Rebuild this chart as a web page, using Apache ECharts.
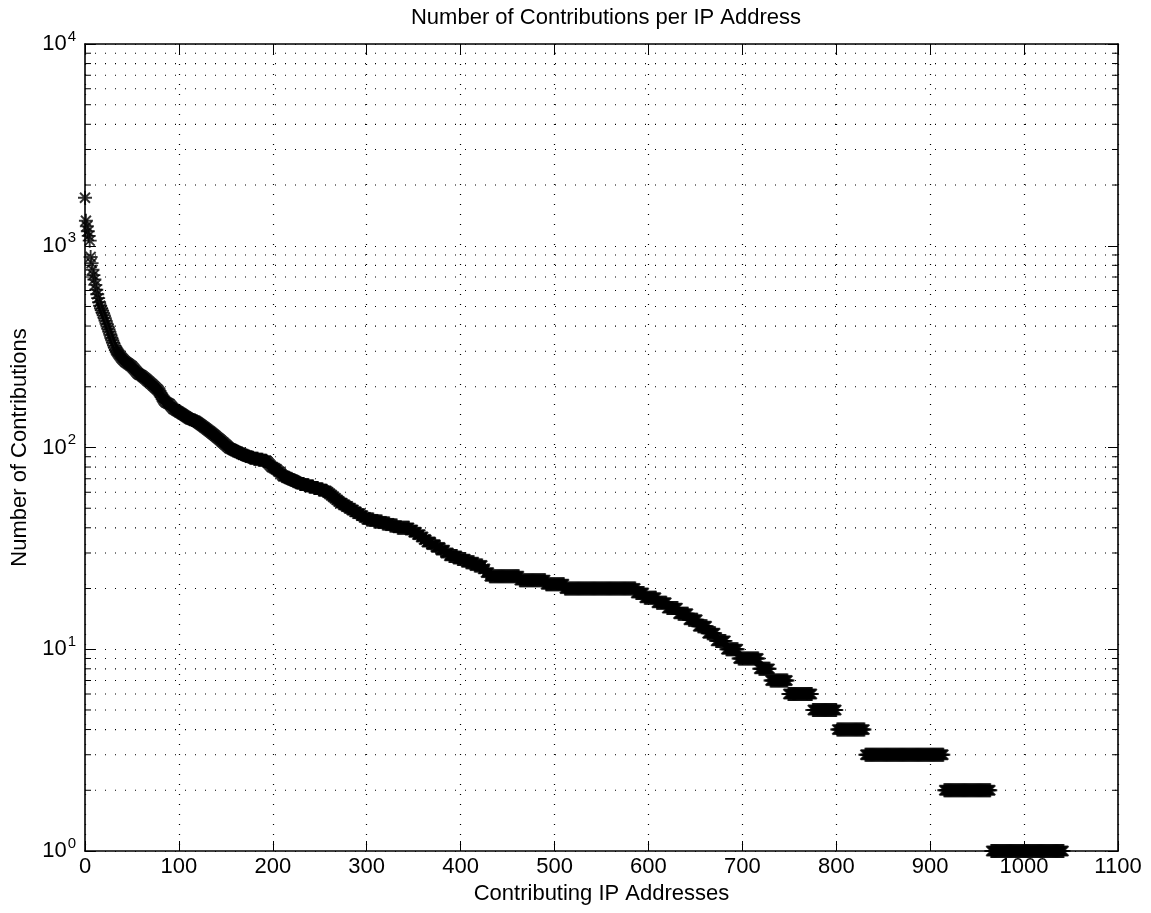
<!DOCTYPE html>
<html><head><meta charset="utf-8">
<script src="https://cdn.jsdelivr.net/npm/echarts@6/dist/echarts.min.js"></script>
<style>html,body{margin:0;padding:0;background:#fff}#c{width:1151px;height:913px}</style>
</head><body><div id="c"></div>
<script>
const titleText = 'Number of Contributions per IP Address';
const xName = 'Contributing IP Addresses';
const yName = 'Number of Contributions';
const xMin = 0, xMax = 1100, xStep = 100;
const yMin = 1, yMax = 10000;
const minorYValues = [2,3,4,5,6,7,8,9,20,30,40,50,60,70,80,90,200,300,400,500,600,700,800,900,2000,3000,4000,5000,6000,7000,8000,9000];

// contributions of the top-ranked IP addresses, one per rank (rank 0..153)
const topValues = [
 1730,1330,1250,1180,1120,1060,880,820,760,715,
 680,640,605,575,550,525,505,490,478,465,
 452,438,424,410,398,386,374,362,350,340,
 330,320,312,305,300,295,290,286,282,278,
 275,272,269,266,264,262,260,258,256,254,
 252,249,246,243,240,237,234,232,230,229,
 228,226,224,222,220,218,216,214,212,210,
 208,206,204,202,200,198,196,194,192,189,
 186,182,178,175,172,170,168,167,166,165,
 164,162,160,158,156,155,154,153,152,151,
 150,149,148,147,146,145,144,143,142,141,
 140,139,138,138,137,137,136,136,135,134,
 133,132,131,130,129,128,127,126,125,124,
 123,122,121,120,119,118,117,116,115,114,
 113,112,111,110,109,108,107,106,105,104,
 103,102,101,100
];
// remaining IPs: contribution level and number of IPs at that level
const levels = [99,98,97,96,95,94,93,92,91,90,89,88,87,86,85,84,83,82,81,80,
 79,78,77,76,75,74,73,72,71,70,69,68,67,66,65,64,63,62,61,60,
 59,58,57,56,55,54,53,52,51,50,49,48,47,46,45,44,43,42,41,40,
 39,38,37,36,35,34,33,32,31,30,29,28,27,26,25,24,23,22,21,20,
 19,18,17,16,15,14,13,12,11,10,9,8,7,6,5,4,3,2,1];
const ipCounts = [2,2,2,2,2,2,2,3,3,2,4,5,5,4,1,1,1,1,1,2,
 2,2,1,2,1,1,1,3,3,3,3,3,3,5,5,5,5,5,4,2,
 2,2,2,2,2,2,3,3,3,3,3,3,4,3,3,8,9,8,8,13,
 4,4,4,3,3,5,5,5,5,4,9,9,9,9,3,4,32,28,20,76,
 9,13,11,12,11,10,10,9,11,13,22,12,19,26,26,30,84,50,78];

const points = [];
topValues.forEach(v => points.push([points.length, v]));
levels.forEach((v, i) => { for (let k = 0; k < ipCounts[i]; k++) points.push([points.length, v]); });

const FONT = "'Liberation Sans', Arial, Helvetica, sans-serif";
const star = 'path://M0,10.4L24,10.4L24,13.6L0,13.6Z M10.4,0L13.6,0L13.6,24L10.4,24Z M4.6,2.3L21.7,19.4L19.4,21.7L2.3,4.6Z M19.4,2.3L21.7,4.6L4.6,21.7L2.3,19.4Z';
const dotted = {color: '#000', width: 1.2, type: [1, 9]};
const axisLine = {show: true, onZero: false, lineStyle: {color: '#000', width: 1.6}};

const chart = echarts.init(document.getElementById('c'), null, {renderer: 'canvas'});
chart.setOption({
  animation: false,
  backgroundColor: '#fff',
  title: {text: titleText, left: 601, top: 2, textAlign: 'center',
    textStyle: {fontFamily: FONT, fontSize: 22, fontWeight: 'normal', color: '#000'}},
  grid: {left: 85, top: 44, width: 1033, height: 807, containLabel: false, outerBoundsMode: 'none'},
  xAxis: [{
    type: 'value', min: xMin, max: xMax, interval: xStep, position: 'bottom',
    name: xName, nameLocation: 'middle', nameGap: 31,
    nameTextStyle: {fontFamily: FONT, fontSize: 22, color: '#000'},
    axisLine: axisLine,
    axisTick: {show: true, inside: true, length: 10, lineStyle: {color: '#000', width: 1}},
    axisLabel: {fontFamily: FONT, fontSize: 22, color: '#000', margin: 5, formatter: v => String(v)},
    splitLine: {show: true, lineStyle: dotted}
  }, {
    type: 'value', min: xMin, max: xMax, interval: xStep, position: 'top',
    axisLine: axisLine,
    axisTick: {show: true, inside: true, length: 10, lineStyle: {color: '#000', width: 1}},
    axisLabel: {show: false}, splitLine: {show: false}
  }],
  yAxis: [{
    type: 'log', logBase: 10, min: yMin, max: yMax, position: 'left',
    name: yName, nameLocation: 'middle', nameGap: 51, nameRotate: 90,
    nameTextStyle: {fontFamily: FONT, fontSize: 22, color: '#000'},
    axisLine: axisLine,
    axisTick: {show: true, inside: true, length: 10, lineStyle: {color: '#000', width: 1}},
    axisLabel: {
      margin: 9,
      formatter: v => '{b|10}{s|' + Math.round(Math.log10(v)) + '}',
      rich: {
        b: {fontFamily: FONT, fontSize: 22, color: '#000', lineHeight: 30, verticalAlign: 'middle'},
        s: {fontFamily: FONT, fontSize: 15, color: '#000', lineHeight: 30, verticalAlign: 'top', padding: [0, 0, 0, 1]}
      }
    },
    splitLine: {show: true, lineStyle: dotted}
  }, {
    type: 'log', logBase: 10, min: yMin, max: yMax, position: 'right',
    axisLine: axisLine,
    axisTick: {show: true, inside: true, length: 10, lineStyle: {color: '#000', width: 1}},
    axisLabel: {show: false}, splitLine: {show: false}
  }],
  series: [{
    type: 'custom', xAxisIndex: 0, yAxisIndex: 0, silent: true, z: 1,
    data: minorYValues.map(v => [0, v]),
    renderItem: function (params, api) {
      const y = api.coord([0, api.value(1)])[1];
      const cs = params.coordSys;
      const x0 = cs.x, x1 = cs.x + cs.width;
      return {type: 'group', children: [
        {type: 'line', shape: {x1: x0, y1: y, x2: x1, y2: y}, style: {stroke: '#000', lineWidth: 1.2, lineDash: [1, 9]}},
        {type: 'line', shape: {x1: x0, y1: y, x2: x0 + 6, y2: y}, style: {stroke: '#000', lineWidth: 1}},
        {type: 'line', shape: {x1: x1 - 6, y1: y, x2: x1, y2: y}, style: {stroke: '#000', lineWidth: 1}}
      ]};
    }
  }, {
    type: 'scatter', xAxisIndex: 0, yAxisIndex: 0, z: 5,
    data: points, symbol: star, symbolSize: 14, clip: false,
    itemStyle: {color: '#000'}, emphasis: {disabled: true}
  }]
});
</script></body></html>
